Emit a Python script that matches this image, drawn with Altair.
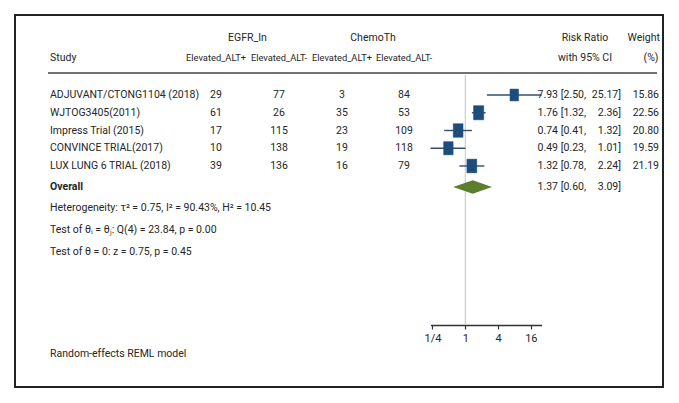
import altair as alt
import pandas as pd

# ---------------- data ----------------
studies = ["ADJUVANT/CTONG1104 (2018)", "WJTOG3405(2011)", "Impress Trial (2015)",
           "CONVINCE TRIAL(2017)", "LUX LUNG 6 TRIAL (2018)"]
egfr_pos = [29, 61, 17, 10, 39]
egfr_neg = [77, 26, 115, 138, 136]
chemo_pos = [3, 35, 23, 19, 16]
chemo_neg = [84, 53, 109, 118, 79]
rr = [7.93, 1.76, 0.74, 0.49, 1.32]
rr_lo = [2.50, 1.32, 0.41, 0.23, 0.78]
rr_hi = [25.17, 2.36, 1.32, 1.01, 2.24]
weights = [15.86, 22.56, 20.80, 19.59, 21.19]
overall_label = "Overall"
overall = [1.37, 0.60, 3.09]  # estimate, lower, upper
axis_ticks = [0.25, 1, 4, 16]
axis_labels = ["1/4", "1", "4", "16"]
footer_lines = [
    "Heterogeneity: \u03c4\u00b2 = 0.75, I\u00b2 = 90.43%, H\u00b2 = 10.45",
    "Test of \u03b8\u1d62 = \u03b8\u2c7c: Q(4) = 23.84, p = 0.00",
    "Test of \u03b8 = 0: z = 0.75, p = 0.45",
]
model_note = "Random-effects REML model"

# ---------------- style / layout ----------------
FONT = "Roboto"
FS = 10.5
FS_SUB = 9.3
TXT = "#262626"
SQ = "#1d4d7a"
LINE = "#34506c"
DIA = "#5b7d2c"
W, H = 655, 317
ROW0 = 87.0        # pixel centre of first row
ROWH = 17.75       # row height
ydom = [1 - ROW0 / ROWH, 1 - ROW0 / ROWH + H / ROWH]
overall_row = 6.18

df = pd.DataFrame({
    "study": studies, "row": list(range(1, len(studies) + 1)),
    "ep": egfr_pos, "en": egfr_neg, "cp": chemo_pos, "cn": chemo_neg,
    "rr": rr, "lo": rr_lo, "hi": rr_hi, "w": weights,
})
df["est_s"] = df["rr"].map(lambda v: f"{v:.2f}")
df["lo_s"] = df["lo"].map(lambda v: f"[{v:.2f},")
df["hi_s"] = df["hi"].map(lambda v: f"{v:.2f}]")
df["w_s"] = df["w"].map(lambda v: f"{v:.2f}")

ov = pd.DataFrame({"label": [overall_label], "row": [overall_row],
                   "est_s": [f"{overall[0]:.2f}"], "lo_s": [f"[{overall[1]:.2f},"],
                   "hi_s": [f"{overall[2]:.2f}]"]})

half = 0.38
dia = pd.DataFrame({
    "x": [overall[1], overall[0], overall[2]],
    "ytop": [overall_row, overall_row - half, overall_row],
    "ybot": [overall_row, overall_row + half, overall_row],
})

label_expr = " : ".join(
    f"datum.value == {v} ? '{l}'" for v, l in zip(axis_ticks, axis_labels)
) + " : ''"

xscale = alt.Scale(type="log", base=2, domain=[min(rr_lo), max(rr_hi)], range=[422.5, 533.6])
xaxis = alt.Axis(values=axis_ticks, labelExpr=label_expr, grid=False, title=None,
                 domainColor="#333333", domainWidth=1.5, tickColor="#333333", tickWidth=1.2,
                 tickSize=4, labelFont=FONT, labelFontSize=FS + 0.5, labelColor=TXT, labelPadding=3)
yscale = alt.Scale(domain=ydom, range=[0, H])

def X(field):
    return alt.X(field, type="quantitative", scale=xscale, axis=xaxis)

def Y(field):
    return alt.Y(field, type="quantitative", scale=yscale, axis=None)

def txt(data, field, x, align="center", weight="normal"):
    return alt.Chart(data).mark_text(font=FONT, fontSize=FS, color=TXT, align=align,
                                     baseline="middle", fontWeight=weight).encode(
        x=alt.value(x), y=Y("row"), text=alt.Text(field))

one = pd.DataFrame({"k": [0]})

frame = alt.Chart(one).mark_rect(filled=False, stroke="#222222", strokeWidth=2).encode(
    x=alt.value(7), x2=alt.value(655), y=alt.value(7), y2=alt.value(379))

hline = alt.Chart(one).mark_rule(color="#444444", strokeWidth=1.3).encode(
    x=alt.value(40), x2=alt.value(649), y=alt.value(65))

vline = alt.Chart(one).mark_rule(color="#c4c4c4", strokeWidth=1).encode(
    x=alt.datum(1, type="quantitative", scale=xscale, axis=xaxis),
    y=alt.value(67), y2=alt.value(H))

ci = alt.Chart(df).mark_rule(color=LINE, strokeWidth=1.4).encode(
    x=X("lo"), x2="hi", y=Y("row"))

squares = alt.Chart(df).mark_point(
    shape="M-0.72,-1L0.72,-1L0.72,1L-0.72,1Z", filled=True, color=SQ, opacity=1,
    stroke=SQ, strokeWidth=0.5).encode(
    x=X("rr"), y=Y("row"),
    size=alt.Size("w", type="quantitative", scale=alt.Scale(domain=[0, 22.56], range=[0, 200]),
                  legend=None))

diamond = alt.Chart(dia).mark_area(color=DIA, orient="vertical", opacity=1).encode(
    x=X("x"), y=Y("ytop"), y2="ybot")

def htxt(s, x, y, align="center", size=FS):
    d = pd.DataFrame({"t": [s]})
    return alt.Chart(d).mark_text(font=FONT, fontSize=size, color=TXT, align=align,
                                  baseline="middle").encode(
        x=alt.value(x), y=alt.value(y), text="t")

cols = [208, 271, 334, 396]
EST_X, LO_X, HI_X, W_X = 550, 578, 613, 651
hdr = [htxt("EGFR_In", (cols[0] + cols[1]) / 2, 30), htxt("ChemoTh", (cols[2] + cols[3]) / 2, 30),
       htxt("Risk Ratio", 577, 30), htxt("Weight", W_X + 1, 30, "right"),
       htxt("Study", 42, 50, "left"),
       htxt("Elevated_ALT+", cols[0], 50, size=FS_SUB), htxt("Elevated_ALT-", cols[1], 50, size=FS_SUB),
       htxt("Elevated_ALT+", cols[2], 50, size=FS_SUB), htxt("Elevated_ALT-", cols[3], 50, size=FS_SUB),
       htxt("with 95% CI", 577, 50), htxt("(%)", 643, 50)]

body = [txt(df, "study", 42, "left"),
        txt(df, "ep", cols[0]), txt(df, "en", cols[1]), txt(df, "cp", cols[2]), txt(df, "cn", cols[3]),
        txt(df, "est_s", EST_X, "right"), txt(df, "lo_s", LO_X, "right"), txt(df, "hi_s", HI_X, "right"),
        txt(df, "w_s", W_X, "right"),
        txt(ov, "label", 42, "left", "bold"),
        txt(ov, "est_s", EST_X, "right"), txt(ov, "lo_s", LO_X, "right"), txt(ov, "hi_s", HI_X, "right")]

foot = [htxt(s, 42, y, "left") for s, y in zip(footer_lines, [200, 222, 244])]
foot.append(htxt(model_note, 42, 346, "left"))

chart = alt.layer(frame, hline, vline, ci, squares, diamond, *hdr, *body, *foot).properties(
    width=W, height=H,
    autosize=alt.AutoSizeParams(type="none"),
    padding={"left": 0, "top": 0, "right": 8, "bottom": 78},
    background="white",
).configure_view(stroke=None)

chart.save("out.html", embed_options={"renderer": "svg", "actions": False})
